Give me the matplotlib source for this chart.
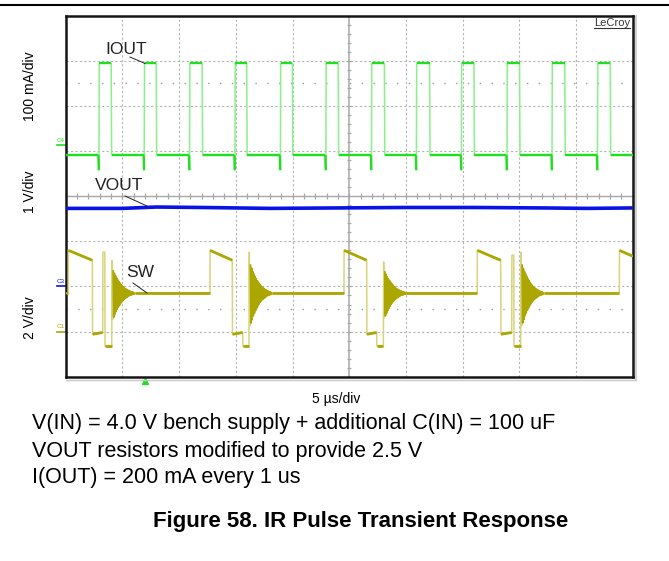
import matplotlib
matplotlib.use('Agg')
import matplotlib.pyplot as plt
from matplotlib.collections import LineCollection
from matplotlib.lines import Line2D

plt.rcParams['font.family'] = ['Liberation Sans', 'DejaVu Sans']

# ---------------- data (time in us, amplitude in screen divisions) ----------------
# IOUT (channel 4, green)
iout_rise = [2.94, 6.93, 10.93, 14.93, 18.94, 22.95, 26.97, 30.93, 34.90, 38.92, 42.89, 46.90]
iout_width = [1.07, 1.05, 1.10, 1.03, 1.05, 1.08, 1.13, 1.16, 1.10, 1.10, 1.12, 1.12]
iout_low = 0.91
iout_high = 2.95
iout_spike = 0.58

# VOUT (channel 3, blue)
vout_t = [0, 5, 8, 12, 18, 24, 30, 36, 42, 46, 50]
vout_v = [-0.27, -0.27, -0.24, -0.25, -0.27, -0.26, -0.25, -0.25, -0.26, -0.27, -0.26]

# SW (channel 1, olive)
sw_idle = -2.15
sw_high_start = -1.20
sw_high_end = -1.42
sw_last_level = -1.33
sw_low = -3.06
sw_low_end = -3.02
sw_lower = -3.32
sw_rise = [0.23, 12.72, 24.54, 36.29, 48.82]
sw_fall = [2.35, 14.69, 26.54, 38.36]
sw_step = [3.26, 15.61, 27.42, 39.33]
sw_blip_end = [3.47, None, None, 39.53]
sw_blip_peak = [-1.24, None, None, -1.31]
sw_ring_start = [4.06, 16.16, 28.01, 40.12]
sw_ring_scale = [0.80, 1.00, 0.76, 1.00]
ring_dev = [0.91, -0.72, 0.62, -0.66, 0.55, -0.58, 0.48, -0.50, 0.42, -0.44,
            0.37, -0.38, 0.32, -0.33, 0.28, -0.28, 0.24, -0.24, 0.20, -0.20,
            0.17, -0.17, 0.14, -0.14, 0.12, -0.12, 0.10, -0.10, 0.08, -0.08,
            0.07, -0.06, 0.05, -0.05, 0.04, -0.04, 0.03, -0.03, 0.02, -0.02]
ring_half = 0.05

# channel reference markers (divisions)
marker_levels = [1.13, -2.0, -3.0]
marker_names = ['C4', 'C3', 'C1']
trigger_time = 7.0

# ---------------- styling ----------------
W, H = 669, 561
GREEN = '#1fe01f'
GREEN_L = '#8af08a'
BLUE = '#0a12e6'
OLIVE = '#aca600'
OLIVE_L = '#d8d47c'
GRID = '#b4b4b4'

fig = plt.figure(figsize=(W / 100, H / 100), dpi=100)
L, R, T, B = 65.7, 632.7, 15.7, 376.7
ax = fig.add_axes([L / W, 1 - B / H, (R - L) / W, (B - T) / H])
ax.set_xlim(0, 50)
ax.set_ylim(-4, 4)
ax.set_xticks([])
ax.set_yticks([])
for s in ax.spines.values():
    s.set_linewidth(1.8)
    s.set_color('#151515')


def fx(x):
    return x / W


def fy(y):
    return 1 - y / H


# grid
for i in range(1, 10):
    if i == 5:
        continue
    ax.axvline(5 * i, color=GRID, lw=0.8, ls=(0, (2, 2)), zorder=1)
for j in range(-3, 4):
    if j == 0:
        continue
    ax.axhline(j, color=GRID, lw=0.8, ls=(0, (2, 2)), zorder=1)
ax.axvline(25, color='#a8a8a8', lw=1.1, zorder=1)
ax.axhline(0, color='#a8a8a8', lw=1.0, zorder=1)
# center ticks
segs = []
for k in range(1, 50):
    segs.append([(k, -0.06), (k, 0.06)])
for k in range(-19, 20):
    if k == 0:
        continue
    segs.append([(25 - 0.2, k * 0.2), (25 + 0.2, k * 0.2)])
ax.add_collection(LineCollection(segs, colors='#a8a8a8', lw=0.9, zorder=1))
# sparse dotted lines
for yy in (2.5, -2.5):
    ax.axhline(yy, color='#9a9a9a', lw=1.0, ls=(0, (1, 7.5)), zorder=1)

# ---------------- IOUT ----------------
xs, ys = [0], [iout_low]
plate = [[(0, iout_low), (iout_rise[0] - 0.05, iout_low)]]
for i, r in enumerate(iout_rise):
    w = iout_width[i]
    xs += [r - 0.05, r - 0.03, r - 0.01, r + 0.02, r + w, r + w + 0.04]
    ys += [iout_low, iout_spike, iout_spike, iout_high, iout_high, iout_low]
    plate.append([(r + 0.02, iout_high), (r + w, iout_high)])
    nxt = iout_rise[i + 1] - 0.05 if i + 1 < len(iout_rise) else 50
    plate.append([(r + w + 0.04, iout_low), (nxt, iout_low)])
    plate.append([(r - 0.05, iout_low), (r - 0.02, iout_spike)])
xs.append(50)
ys.append(iout_low)
ax.plot(xs, ys, color=GREEN_L, lw=1.1, zorder=3)
ax.add_collection(LineCollection(plate, colors=GREEN, lw=1.7, zorder=4))

# ---------------- VOUT ----------------
ax.plot(vout_t, vout_v, color=BLUE, lw=2.6, zorder=4, solid_capstyle='butt')

# ---------------- SW ----------------
xs, ys = [0, sw_rise[0]], [sw_idle, sw_idle]
plate = [[(0, sw_idle), (sw_rise[0], sw_idle)]]
rings = []
for c in range(len(sw_fall)):
    r, f, st, rs = sw_rise[c], sw_fall[c], sw_step[c], sw_ring_start[c]
    xs += [r + 0.01, f, f + 0.02, st]
    ys += [sw_high_start, sw_high_end, sw_low, sw_low_end]
    plate.append([(r + 0.01, sw_high_start), (f, sw_high_end)])
    plate.append([(f + 0.02, sw_low), (st, sw_low_end)])
    if sw_blip_end[c] is not None:
        be = sw_blip_end[c]
        xs += [st + 0.02, be - 0.02, be, rs]
        ys += [sw_blip_peak[c], sw_blip_peak[c], sw_lower, sw_lower]
        plate.append([(be, sw_lower), (rs, sw_lower)])
    else:
        xs += [st + 0.02, rs]
        ys += [sw_lower, sw_lower]
        plate.append([(st + 0.02, sw_lower), (rs, sw_lower)])
    rx, ry = [], []
    for k, d in enumerate(ring_dev):
        rx.append(rs + 0.03 + k * ring_half)
        ry.append(sw_idle + d * sw_ring_scale[c])
    xs += rx
    ys += ry
    rings.append((rx[2:], ry[2:]))
    rend = rs + 0.03 + len(ring_dev) * ring_half
    xs += [rend, sw_rise[c + 1]]
    ys += [sw_idle, sw_idle]
    plate.append([(rend, sw_idle), (sw_rise[c + 1], sw_idle)])
xs += [sw_rise[-1] + 0.01, 50]
ys += [sw_high_start, sw_last_level]
plate.append([(sw_rise[-1] + 0.01, sw_high_start), (50, sw_last_level)])
ax.plot(xs, ys, color=OLIVE_L, lw=1.1, zorder=3)
for rx, ry in rings:
    ax.plot(rx, ry, color=OLIVE, lw=1.3, zorder=4)
ax.add_collection(LineCollection(plate, colors=OLIVE, lw=2.0, zorder=4))

# ---------------- channel markers ----------------
ytr = ax.get_yaxis_transform()
mk_col = [GREEN, BLUE, OLIVE]
for lv, nm, col in zip(marker_levels, marker_names, mk_col):
    ax.plot([-0.016, 0.0], [lv, lv], color=col, lw=1.2, transform=ytr, clip_on=False)
    ax.text(-0.016, lv + 0.05, nm, color=col, fontsize=4.5, transform=ytr,
            ha='left', va='bottom', clip_on=False)
xtr = ax.get_xaxis_transform()
ax.plot([trigger_time], [-0.012], marker='^', color='#22dd22', ms=4.5,
        transform=xtr, clip_on=False)

# ---------------- trace labels & leaders ----------------
fig.text(fx(126), fy(50), 'IOUT', fontsize=12.5, ha='center', va='center', color='#222222')
fig.text(fx(119), fy(186), 'VOUT', fontsize=12.5, ha='center', va='center', color='#222222')
fig.text(fx(140), fy(273), 'SW', fontsize=12.5, ha='center', va='center', color='#222222')
for (x0, y0, x1, y1) in [(130, 57, 145, 63.5), (125, 196, 147, 206), (133, 283, 147, 293)]:
    fig.add_artist(Line2D([fx(x0), fx(x1)], [fy(y0), fy(y1)], color='#222222', lw=0.7,
                          transform=fig.transFigure))

# axis labels
fig.text(fx(30), fy(86), '100 mA/div', rotation=90, fontsize=10, ha='center', va='center')
fig.text(fx(30), fy(192), '1 V/div', rotation=90, fontsize=10, ha='center', va='center')
fig.text(fx(30), fy(318), '2 V/div', rotation=90, fontsize=10, ha='center', va='center')
fig.text(fx(336), fy(399), '5 µs/div', fontsize=10, ha='center', va='center')

# LeCroy
fig.text(fx(630), fy(23), 'LeCroy', fontsize=8, ha='right', va='center', color='#333333')
fig.add_artist(Line2D([fx(594), fx(630)], [fy(28), fy(28)], color='#333333', lw=0.8,
                      transform=fig.transFigure))

# frame shadow and top rule
fig.add_artist(Line2D([fx(636), fx(636)], [fy(16), fy(379)], color='#c8c8c8', lw=1.2,
                      transform=fig.transFigure))
fig.add_artist(Line2D([fx(66), fx(636)], [fy(379.5), fy(379.5)], color='#c8c8c8', lw=1.0,
                      transform=fig.transFigure))
fig.add_artist(Line2D([0, 1], [fy(5), fy(5)], color='black', lw=1.5,
                      transform=fig.transFigure))

# notes
fig.text(fx(32), fy(424), 'V(IN) = 4.0 V bench supply + additional C(IN) = 100 uF',
         fontsize=15.5, ha='left', va='center')
fig.text(fx(32), fy(451), 'VOUT resistors modified to provide 2.5 V',
         fontsize=15.5, ha='left', va='center')
fig.text(fx(32), fy(478), 'I(OUT) = 200 mA every 1 us',
         fontsize=15.5, ha='left', va='center')
fig.text(fx(361), fy(521), 'Figure 58. IR Pulse Transient Response',
         fontsize=16, fontweight='bold', ha='center', va='center')

fig.savefig('out.png', dpi=100)
